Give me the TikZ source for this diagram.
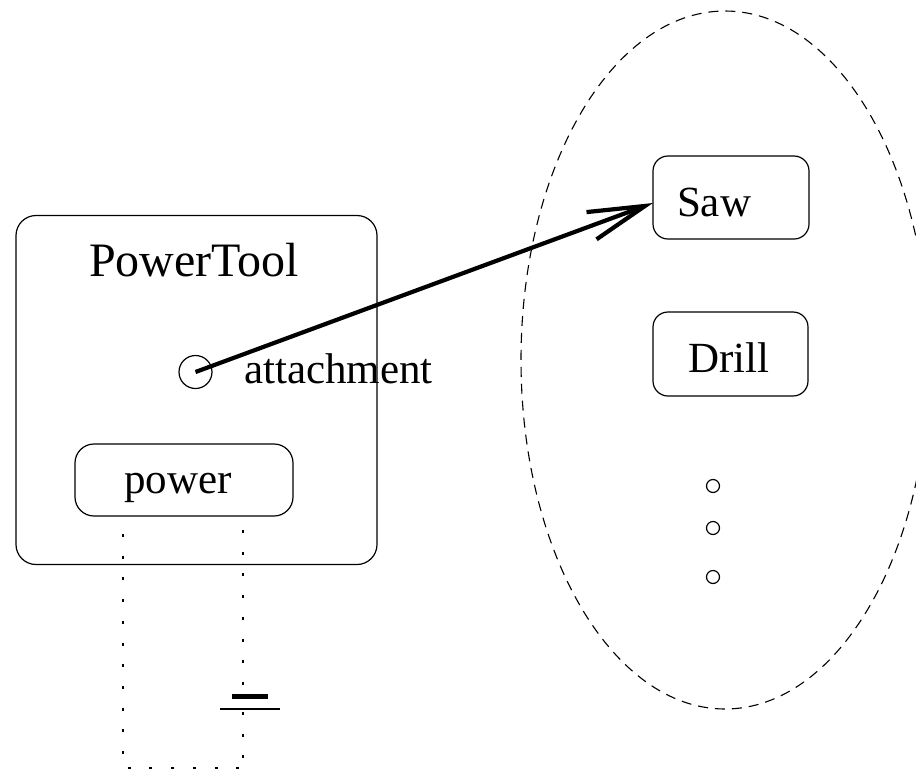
\documentclass[tikz,border=0pt]{standalone}
\usepackage{fontspec}
\setmainfont{Liberation Serif}
\usetikzlibrary{arrows.meta}
\begin{document}
\begin{tikzpicture}[x=1pt,y=-1pt,
  every node/.style={inner sep=0pt, outer sep=0pt},
  rbox/.style={draw, line width=1.2pt, rounded corners=17pt},
  lbl/.style={anchor=base west, font=\fontsize{43}{50}\selectfont},
  port/.style={draw, circle, line width=1.2pt},
  wire/.style={line width=1.1pt, dash pattern=on 3pt off 18.7pt},
  assoc/.style={line width=4.2pt, -{Straight Barb[length=57pt,width=29pt,line width=4.2pt]}},
  group/.style={draw, line width=1.1pt, dash pattern=on 10pt off 7pt}]
\useasboundingbox (0,0) rectangle (916,772);

% tool classifier with its parts
\node[rbox, rounded corners=20pt, minimum width=361pt, minimum height=349pt] (tool) at (196.5,390) {};
\node[lbl, font=\fontsize{48}{56}\selectfont] (toolname) at (89,276) {PowerTool};
\node[port, minimum size=33pt] (att) at (195.5,372) {};
\node[lbl] (attname) at (244,383) {attachment};
\node[rbox, rounded corners=19pt, minimum width=218pt, minimum height=72pt] (pwr) at (184,480) {};
\node[lbl] (pwrname) at (124,493) {power};

% set of possible attachments
\draw[group] (725,360) ellipse [x radius=204, y radius=349];
\node[rbox, rounded corners=15pt, minimum width=156pt, minimum height=83pt] (saw) at (731,197.5) {};
\node[lbl] (sawname) at (677,216) {Saw};
\node[rbox, rounded corners=15pt, minimum width=155pt, minimum height=84pt] (drill) at (730.5,354) {};
\node[lbl] (drillname) at (688,372) {Drill};
\node[port, minimum size=13pt] (d1) at (713,486) {};
\node[port, minimum size=13pt] (d2) at (713,528) {};
\node[port, minimum size=13pt] (d3) at (713,577) {};

% attachment link
\draw[assoc] (att.center) -- ([yshift=-5.5pt]saw.west);

% power supply wiring with battery
\coordinate (wtr) at (243,530);
\coordinate (wbat) at (243,690);
\coordinate (wbat2) at (243,712);
\coordinate (wbr) at (243,768);
\coordinate (wbl) at (123,768);
\coordinate (wtl) at (123,534);
\draw[wire] (wtr) -- (wbat);
\draw[wire] (wbat2) -- (wbr);
\draw[wire] (wtl) -- (wbl) -- (wbr);
\coordinate (batA) at (232,696.5);
\coordinate (batB) at (268,696.5);
\coordinate (batC) at (220,709);
\coordinate (batD) at (280,709);
\draw[line width=5pt] (batA) -- (batB);
\draw[line width=1.3pt] (batC) -- (batD);
\end{tikzpicture}
\end{document}
